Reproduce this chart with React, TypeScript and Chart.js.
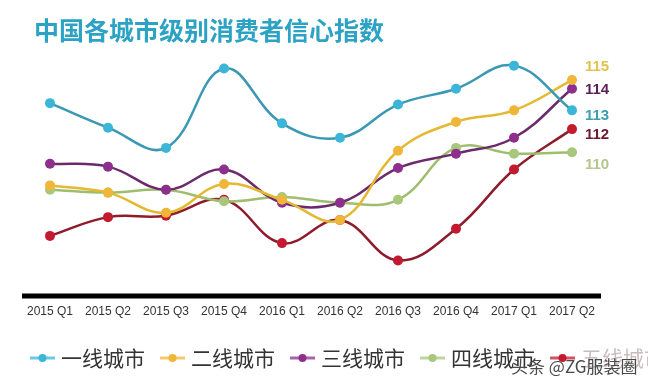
import React, { useEffect, useRef } from "react";
import { Chart, registerables } from "chart.js";

Chart.register(...registerables);

const quarters = [
  "2015 Q1", "2015 Q2", "2015 Q3", "2015 Q4", "2016 Q1",
  "2016 Q2", "2016 Q3", "2016 Q4", "2017 Q1", "2017 Q2",
];
const seriesNames = ["一线城市", "二线城市", "三线城市", "四线城市", "五线城市"];
const tier1 = [113.4, 111.7, 110.3, 115.8, 112.0, 111.0, 113.3, 114.4, 116.0, 112.9];
const tier2 = [107.7, 107.2, 105.8, 107.8, 106.7, 105.3, 110.1, 112.1, 112.9, 115.0];
const tier3 = [109.2, 109.0, 107.4, 108.8, 106.5, 106.5, 108.9, 109.9, 111.0, 114.4];
const tier4 = [107.4, 107.2, 107.4, 106.6, 106.9, 106.5, 106.7, 110.3, 109.9, 110.0];
const tier5 = [104.2, 105.5, 105.6, 106.7, 103.7, 105.3, 102.5, 104.7, 108.8, 111.6];
const endLabels = ["113", "115", "114", "110", "112"];
const titleText = "中国各城市级别消费者信心指数";
const watermark = "头条 @ZG服装圈";

const lineColors = ["#3a98b4", "#e4b830", "#6c2a6c", "#9fbd6c", "#8e1c2c"];
const pointColors = ["#3cb6d8", "#f0b63a", "#8e2f8e", "#a9c77c", "#c41a30"];
const labelColors = ["#3a9fb2", "#e0c24c", "#5e1f57", "#b6c68c", "#6e1a2c"];
const labelOffsets = [5, -13, 1, 13, 6];

const CJK = '"Noto Sans CJK SC", "Noto Sans", sans-serif';

const decorPlugin = {
  id: "decor",
  beforeDatasetsDraw(chart: any) {
    const ctx = chart.ctx;
    const area = chart.chartArea;
    ctx.save();
    ctx.strokeStyle = "#000";
    ctx.lineWidth = 5;
    ctx.beginPath();
    ctx.moveTo(22, area.bottom - 0.5);
    ctx.lineTo(601, area.bottom - 0.5);
    ctx.stroke();
    ctx.restore();
  },
  afterDatasetsDraw(chart: any) {
    const ctx = chart.ctx;
    ctx.save();
    // title
    ctx.font = `bold 25px ${CJK}`;
    ctx.fillStyle = "#2ca2c4";
    ctx.textBaseline = "middle";
    ctx.textAlign = "left";
    ctx.fillText(titleText, 34, 30);

    // end labels
    ctx.font = 'bold 15px "Liberation Sans", Arial, sans-serif';
    chart.data.datasets.forEach((ds: any, i: number) => {
      const meta = chart.getDatasetMeta(i);
      const last = meta.data[meta.data.length - 1];
      ctx.fillStyle = labelColors[i];
      ctx.fillText(endLabels[i], last.x + 13, last.y + labelOffsets[i]);
    });

    // legend
    ctx.font = `21px ${CJK}`;
    const ly = 358;
    seriesNames.forEach((name, i) => {
      const x0 = 30 + i * 130;
      ctx.strokeStyle = pointColors[i];
      ctx.globalAlpha = 0.75;
      ctx.lineWidth = 3;
      ctx.beginPath();
      ctx.moveTo(x0, ly);
      ctx.lineTo(x0 + 25, ly);
      ctx.stroke();
      ctx.globalAlpha = 1;
      ctx.fillStyle = pointColors[i];
      ctx.beginPath();
      ctx.arc(x0 + 12.5, ly, 4, 0, Math.PI * 2);
      ctx.fill();
      ctx.fillStyle = i === 4 ? "#c9bcbf" : "#333";
      ctx.fillText(name, x0 + 31, ly);
    });

    // watermark
    ctx.font = `17px ${CJK}`;
    ctx.fillStyle = "#4a4a4a";
    ctx.fillText(watermark, 511, 367);
    ctx.restore();
  },
};

export default function App() {
  const ref = useRef<HTMLCanvasElement | null>(null);
  useEffect(() => {
    if (!ref.current) return;
    const all = [tier1, tier2, tier3, tier4, tier5];
    const chart = new Chart(ref.current, {
      type: "line",
      data: {
        labels: quarters,
        datasets: all.map((d, i) => ({
          label: seriesNames[i],
          data: d,
          borderColor: lineColors[i],
          backgroundColor: pointColors[i],
          pointBackgroundColor: pointColors[i],
          pointBorderColor: pointColors[i],
          pointRadius: 5,
          pointBorderWidth: 0,
          borderWidth: 2.5,
          tension: 0.4,
          fill: false,
        })),
      },
      options: {
        responsive: false,
        animation: false,
        layout: { padding: { left: 50, right: 76, top: 51.2, bottom: 59.1 } },
        plugins: {
          legend: { display: false },
          title: { display: false },
          tooltip: { enabled: false },
        },
        scales: {
          x: {
            offset: false,
            grid: { display: false, drawTicks: false },
            border: { display: false },
            ticks: {
              color: "#333",
              font: { size: 12, family: '"Liberation Sans", Arial, sans-serif' },
              padding: 8,
              maxRotation: 0,
              autoSkip: false,
            },
          },
          y: { display: false, min: 100, max: 117 },
        },
      },
      plugins: [decorPlugin],
    });
    return () => chart.destroy();
  }, []);
  return (
    <div style={{ position: "absolute", left: 0, top: 0, width: 648, height: 386, background: "#fff" }}>
      <canvas ref={ref} width={648} height={386} style={{ display: "block" }} />
    </div>
  );
}
